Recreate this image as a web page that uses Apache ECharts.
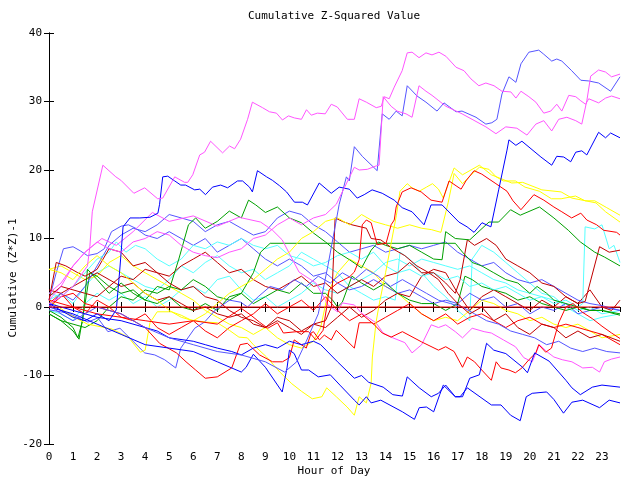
<!DOCTYPE html>
<html><head><meta charset="utf-8">
<script src="https://cdn.jsdelivr.net/npm/echarts@6/dist/echarts.min.js"></script>
<style>html,body{margin:0;padding:0;background:#fff}#c{width:640px;height:480px}</style>
</head><body><div id="c"></div>
<script>
const titleText = 'Cumulative Z-Squared Value';
const xName = 'Hour of Day';
const yName = 'Cumulative (Z*Z)-1';
const xMin = 0, xMax = 23.75, yMin = -20, yMax = 40;

const magentaTop = [[0,0.5],[0.5,1.5],[1,3],[1.3,4.5],[1.6,6],[1.7,8.8],[1.8,13.9],[2.24,20.7],[2.78,19.0],[2.99,18.5],[3.53,16.6],[3.98,17.4],[4.52,15.8],[4.73,15.9],[5.23,19.0],[5.64,18.2],[5.77,18.2],[5.98,19.3],[6.27,22.2],[6.47,22.6],[6.72,24.2],[7.22,22.5],[7.51,23.5],[7.72,23.1],[7.97,24.5],[8.26,27.4],[8.46,29.9],[8.88,29.1],[9.17,28.5],[9.46,28.3],[9.71,27.3],[9.96,27.9],[10.21,27.6],[10.5,27.4],[10.71,28.8],[10.91,28.0],[11.16,28.3],[11.49,28.2],[11.74,29.6],[11.99,29.2],[12.41,27.4],[12.7,27.4],[12.9,30.4],[13.2,29.9],[13.61,29.1],[13.82,29.3],[13.94,30.7],[14.15,30.4],[14.36,32.1],[14.69,34.5],[14.9,37.1],[15.1,37.2],[15.39,36.4],[15.68,37.1],[15.93,36.8],[16.22,37.2],[16.51,36.6],[16.93,35.0],[17.26,34.5],[17.55,33.3],[17.88,32.3],[18.17,32.7],[18.51,32.3],[18.84,31.5],[19.21,31.4],[19.42,30.5],[19.63,31.5],[19.96,30.7],[20.25,29.9],[20.58,28.3],[20.87,28.6],[21.12,29.6],[21.33,28.6],[21.62,30.9],[21.91,30.7],[22.12,30.1],[22.32,29.6],[22.45,30.4],[22.86,29.8],[23.15,30.5],[23.4,30.8],[23.75,30.4]];
const magentaSecond = [[0,2],[0.5,3.5],[1,6],[1.5,8],[2,9.5],[2.5,8.5],[3,8],[3.5,9.5],[4,10],[4.5,11],[5,10.5],[5.5,9],[6,8],[6.5,7.5],[7,7.2],[7.5,8],[8,8.5],[8.5,10],[9,10.5],[9.5,12],[10,13],[10.5,12],[11,13],[11.5,13.5],[11.95,15.0],[12.7,20.4],[12.9,20.0],[13.24,20.1],[13.61,20.6],[13.73,20.7],[13.9,30.7],[14.23,29.3],[14.48,28.6],[14.85,28.2],[15.1,27.7],[15.39,32.3],[15.68,31.5],[15.93,30.9],[16.22,30.1],[16.51,29.3],[17.18,28.2],[18.17,26.3],[18.59,25.3],[19.0,26.3],[19.46,26.1],[19.88,25.1],[20.25,26.7],[20.58,27.2],[20.91,25.7],[21.2,27.4],[21.54,27.7],[21.91,27.2],[22.16,26.7],[22.37,30.1],[22.53,33.7],[22.86,34.6],[23.15,34.3],[23.4,33.6],[23.75,34.0]];
const magentaLow = [[0,1],[0.5,3],[1,6],[1.5,8],[2.2,10],[2.8,9],[3.5,11],[4.3,13.8],[5,12.5],[6,13.3],[7,11.8],[7.9,13.1],[8.8,12.4],[9.3,11.2],[9.7,9.8],[10.4,5.1],[11.1,3.5],[11.5,1.0],[11.6,0.3],[12.0,-0.7],[12.2,0.6],[12.7,0.3],[13.0,-0.9],[13.6,-2.3],[13.9,-3.8],[14.3,-4.5],[14.8,-5.2],[15.1,-6.7],[15.5,-5.5],[15.9,-2.6],[16.2,-3.0],[16.5,-2.6],[16.9,-3.6],[17.2,-4.5],[17.6,-3.1],[18.1,-3.6],[18.4,-3.8],[18.9,-4.8],[19.4,-5.8],[19.75,-7.4],[20.1,-8.0],[20.4,-5.5],[20.7,-6.5],[21.0,-7.3],[21.35,-7.7],[21.75,-8.0],[22.2,-8.9],[22.6,-8.8],[22.9,-9.5],[23.1,-8.0],[23.4,-7.6],[23.75,-7.3]];
const lightBlueTop = [[0,0.3],[0.5,-1],[1,-2],[1.5,-1],[2,0],[3,-1],[4,-3],[5,-4.5],[6,-5.5],[7,-6.5],[8,-7],[9,-8],[9.8,-9.5],[10.3,-8],[10.7,-5],[11.2,-1],[11.6,6],[12.07,15.0],[12.37,19.0],[12.49,18.4],[12.7,23.4],[13.03,22.0],[13.65,19.9],[13.86,28.2],[14.15,27.4],[14.44,28.6],[14.69,27.9],[14.9,32.3],[15.31,30.8],[15.68,29.9],[16.14,28.6],[16.43,29.8],[16.93,28.5],[17.18,28.6],[17.76,27.7],[18.17,26.7],[18.42,26.9],[18.63,27.4],[18.84,31.1],[19.13,33.6],[19.42,32.8],[19.63,35.5],[19.96,37.2],[20.37,37.5],[20.58,36.9],[20.91,35.9],[21.12,36.2],[21.33,35.9],[21.74,34.5],[22.12,33.1],[22.45,33.0],[22.86,32.7],[23.36,31.5],[23.75,33.6]];
const blueUpper = [[0,0.5],[0.5,-0.5],[1,-1.5],[1.5,-2],[2,-1],[2.5,-2],[2.8,-0.4],[2.95,5.7],[3.08,11.7],[3.37,13.0],[3.78,13.0],[4.2,13.1],[4.53,13.7],[4.6,15.0],[4.73,19.0],[4.94,19.1],[5.23,18.4],[5.48,17.8],[5.68,17.8],[6.06,17.1],[6.27,17.2],[6.51,16.4],[6.8,17.5],[7.14,17.8],[7.43,17.4],[7.84,18.4],[8.05,18.4],[8.34,17.5],[8.46,16.8],[8.67,19.9],[9.05,19.0],[9.29,18.5],[9.59,17.7],[9.88,16.8],[10.21,15.3],[10.54,15.3],[10.75,14.9],[11.24,18.1],[11.74,16.6],[12.07,17.5],[12.49,17.2],[12.82,15.9],[13.11,16.4],[13.44,17.1],[13.86,16.6],[14.36,15.6],[14.69,14.5],[15.1,13.9],[15.6,12.0],[15.89,14.9],[16.35,14.9],[17.05,12.4],[17.39,11.7],[17.68,10.9],[18.01,12.3],[18.38,11.7],[18.71,17.2],[19.05,22.9],[19.13,24.4],[19.42,23.6],[19.67,24.2],[20.46,21.9],[20.91,20.7],[21.12,22.0],[21.41,21.9],[21.7,21.2],[21.91,22.6],[22.16,22.8],[22.37,22.2],[22.86,25.5],[23.15,24.7],[23.36,25.4],[23.75,24.7]];
const yellowA = [[0,1.0],[0.8,-1],[1.6,-2.5],[2.6,-3.2],[3.3,-4.4],[3.8,-6.6],[4.0,-6.3],[4.2,-2.3],[4.5,-0.7],[5.1,-0.7],[5.5,-1.2],[5.9,-1.9],[6.5,-2.2],[7.0,-2.3],[7.5,-3.4],[7.9,-4.4],[8.25,-4.5],[8.5,-5.5],[9.05,-7.3],[9.6,-9.5],[10.1,-11.2],[10.5,-12.3],[10.95,-13.4],[11.35,-13.1],[11.55,-11.8],[11.95,-13.1],[12.4,-14.6],[12.7,-15.8],[12.9,-13.1],[13.2,-14.0],[13.4,-11.1],[13.45,-7.3],[13.6,-2.3],[13.75,0.7],[14.0,5],[14.45,13.4],[14.6,16.9],[14.9,18.0],[15.1,17.4],[15.4,16.9],[15.7,17.5],[15.95,18.0],[16.2,17.2],[16.4,15.9],[16.85,20.3],[17.2,19.3],[17.9,20.7],[18.4,19.3],[19.25,18.1],[19.7,18.2],[20.5,17.1],[21.3,16.8],[21.75,15.9],[22.75,15.2],[23.15,13.9],[23.75,12.4]];
const yellowB = [[0,5.5],[0.5,5],[1,4],[1.5,6],[2,7.5],[2.5,6],[3,5],[3.5,3.5],[4,2],[4.5,1],[5,-0.5],[5.5,-1.5],[6,-2],[6.5,-1],[7,0.5],[7.5,2],[8,3],[8.5,4],[9,5.5],[9.5,7],[10,8],[10.5,10],[11,11],[11.5,12.5],[12,13],[12.5,12],[13,13.5],[13.5,12.5],[14,12],[14.5,11.5],[15,12],[15.5,11.5],[15.9,11.3],[16.3,10.9],[16.6,15.2],[16.85,19.5],[17.2,18],[17.5,19.1],[17.9,20.4],[18.3,20.1],[18.6,19],[18.9,18.4],[19.4,18.4],[19.8,17.5],[20.4,16.9],[20.9,15.8],[21.3,15.8],[21.9,16.2],[22.3,15.5],[22.7,15.5],[23.2,14.5],[23.75,13.4]];
const yellowC = [[0,5.5],[0.5,6],[1,5],[1.5,4],[2,4.5],[2.5,6.5],[3,7.5],[3.5,6],[4,5],[4.5,4],[5,3],[5.5,2],[6,1],[6.5,-0.5],[7,-1.5],[7.5,-2.5],[8,-3],[8.5,-4],[9,-3],[9.5,-4.5],[10,-5.5],[10.5,-6],[11,-5],[11.3,-3],[11.6,2],[12,5],[12.5,7],[13,6],[13.5,5],[14,3],[14.5,2],[15,0.5],[15.5,-1],[16,-2],[16.5,-1.5],[17,-2],[17.5,-0.5],[18,1],[18.5,0.5],[19,-0.5],[19.5,-1],[20,-2],[20.5,-1.5],[21,-2.5],[21.5,-3],[22,-2.5],[22.5,-3.5],[23,-4.5],[23.75,-4]];
const redUpper = [[0,1],[1,0],[2,-1],[3,-1.5],[4,-2],[5,-2.5],[6,-2],[7,-2.5],[8,-0.2],[8.4,-1.2],[8.75,-2.2],[9.1,-3.1],[9.5,-2.3],[9.75,-3.8],[10.3,-3.6],[10.8,-3.6],[11.1,-4.8],[11.4,-3.4],[11.55,0],[11.65,2.5],[12.0,3.5],[12.5,4.4],[12.7,5.1],[12.9,6.9],[13.03,12.0],[13.2,12.7],[13.4,12.3],[13.65,9.1],[14.02,9.3],[14.23,12.0],[14.36,12.7],[14.44,14.6],[14.69,16.8],[15.06,17.4],[15.48,16.8],[15.89,15.6],[16.35,15.3],[16.64,18.4],[16.93,17.7],[17.14,17.2],[17.34,18.4],[17.68,19.9],[18.0,19.4],[18.59,18.0],[19.05,16.9],[19.3,15.5],[19.63,14.2],[20.17,16.4],[20.58,15.6],[21.0,14.6],[21.33,13.9],[21.74,13.0],[22.12,13.7],[22.37,12.7],[22.78,12.0],[23.07,11.2],[23.61,10.9],[23.75,10.5]];
const redLower = [[0,0],[0.5,1.5],[1,2],[1.5,0.5],[2,0],[2.5,-0.5],[3,-1],[3.5,-2],[4,-3],[4.6,-5.3],[5.3,-6.7],[5.7,-8.0],[6.1,-9.2],[6.5,-10.4],[7.0,-10.2],[7.6,-8.9],[7.95,-5.5],[8.25,-5.3],[8.76,-7.0],[9.3,-8.0],[9.71,-8.0],[10.0,-7.4],[10.2,-4.8],[10.7,-6.0],[10.9,-3.8],[11.0,-3.6],[11.25,-4.8],[11.45,-4.1],[11.74,-4.8],[11.95,-3.4],[12.7,-6.0],[12.9,-2.3],[13.45,-2.3],[13.86,-3.8],[14.23,-4.4],[14.7,-3.6],[15.5,-5.1],[16.2,-6.3],[16.5,-5.8],[16.85,-6.5],[17.2,-8.8],[17.4,-7.3],[17.7,-8.0],[18.0,-9.2],[18.4,-10.7],[18.6,-8.0],[18.8,-8.9],[19.13,-9.2],[19.4,-9.6],[19.67,-8.9],[19.96,-7.7],[20.25,-6.7],[20.37,-5.5],[20.66,-6.6],[20.9,-6.0],[21.2,-2.3],[21.5,0],[21.8,0.5],[22.2,-0.8],[22.6,-1.7],[23.0,-2.8],[23.4,-3.8],[23.75,-4.6]];
const redMid = [[0,0.5],[0.5,2],[1,0],[1.5,-1],[2,1],[2.5,0],[3,-1.5],[3.5,-2],[4,-1],[4.5,-3],[5,-4],[5.5,-3],[6,-2],[6.5,-3.5],[7,-4.5],[7.5,-3],[8,-2],[8.5,-1],[9,0.5],[9.5,-1],[10,0],[10.5,1],[11,-0.5],[11.5,1.5],[12,-0.5],[12.5,-2],[13,-1],[13.5,-2.5],[14,-1.5],[14.5,-0.5],[15,0.5],[15.5,-1],[16,-2],[16.5,-1],[17,-2.5],[17.5,-1.5],[18,-1],[18.5,-2],[19,-3],[19.5,-2],[20,-1.5],[20.5,-2.5],[21,-3],[21.5,-2.5],[22,-3],[22.5,-3.5],[23,-4],[23.75,-5.5]];
const darkRedA = [[0,1],[0.3,6.5],[0.7,6],[1.2,5],[1.5,4.5],[2,5.5],[2.5,8.5],[3,8],[3.5,6],[4,6.5],[4.5,5],[5,3.5],[5.5,2.5],[6,3],[6.5,1.5],[7,1],[7.5,-0.5],[8,-1.5],[8.5,-2],[9,-3],[9.5,-2],[10,-3],[10.5,-4],[11,-2.5],[11.5,-2],[11.75,0],[11.9,13],[12.2,12.5],[12.6,12],[13.2,11.5],[13.4,10],[13.8,9.8],[14.3,8.5],[14.8,7.5],[15.3,6],[15.8,5],[16.2,4],[16.6,2],[17.0,0.5],[17.5,-1],[18,0],[18.5,-2],[19,-1],[19.5,-3],[20,-4],[20.5,-2.5],[21,-3],[21.5,-4.5],[22,-3.5],[22.5,-4.5],[23,-4],[23.75,-5]];
const darkRedB = [[0,2.5],[0.5,2],[1,3],[1.5,4],[2,5],[2.5,4],[3,3],[3.5,3.5],[4,2],[4.5,1],[5,1.5],[5.5,0.5],[6,-0.5],[6.5,0],[7,-1],[7.5,-1.5],[8,-1],[8.5,-2.5],[9,-3],[9.5,-1.5],[10,-2],[10.5,-3.5],[11,-2.5],[11.5,-3],[12,-1.5],[12.5,0],[13,-1.5],[13.5,-0.5],[14,1],[14.5,2],[15,1.5],[15.5,4.5],[16,5.5],[16.5,5],[17,2],[17.5,-0.5],[18,1.5],[18.5,2.5],[19,1.5],[19.5,0.5],[20,-0.5],[20.5,1],[21,0],[21.5,1.5],[22,0.5],[22.5,2.5],[23,0],[23.4,-0.5],[23.75,1]];
const darkRedC = [[0,1.5],[0.5,3],[1,2.5],[1.5,2],[2,1.5],[2.5,3],[3,4.5],[3.5,4],[4,5.5],[4.5,5],[5,4.5],[5.5,6],[6,7],[6.5,8],[7,6.5],[7.5,5],[8,5.5],[8.5,4],[9,3],[9.5,2.5],[10,3.5],[10.5,4.5],[11,3],[11.5,3.5],[12,2],[12.5,3],[13,4],[13.5,3],[14,4.5],[14.5,5],[15,6.5],[15.5,5],[16,5],[16.5,3.5],[16.9,2],[17.1,4],[17.4,9.8],[17.7,9],[18.2,10],[18.6,9],[19,7],[19.5,6],[20,5],[20.5,3.5],[21,3],[21.5,1.5],[22,0.5],[22.3,0.8],[22.9,8.8],[23.3,8],[23.75,8.3]];
const greenA = [[0,-0.5],[0.5,-1.5],[1,-3],[1.2,-4.5],[1.4,-2],[1.6,5.5],[2,4],[2.5,2],[3,3.5],[3.5,2],[4,1],[4.5,3],[5,2.5],[5.4,7],[5.8,12],[6.1,13],[6.5,11.5],[7,12.5],[7.5,14],[8,13],[8.3,15.6],[8.6,14.9],[9,13.8],[9.5,14.6],[10,13],[10.5,12.3],[11,10.8],[11.5,9.5],[12,8],[12.5,6.9],[13,5.7],[13.4,8.3],[13.7,9.5],[14,9],[14.5,8.5],[15,9],[15.5,8],[16,7],[16.35,6.9],[16.5,11],[16.9,10],[17.5,9.8],[18.3,12.4],[18.7,12.4],[19.2,14.2],[19.6,13.4],[20.4,14.6],[21,13],[21.6,11.2],[22.1,9.5],[22.7,8.0],[23.1,7.3],[23.75,6]];
const greenB = [[0,-1],[0.5,-2],[1,-2.5],[1.5,-3],[2,-2],[2.5,0],[3,1.5],[3.5,1],[4,2.5],[4.5,2],[5,3],[5.5,2.5],[6,4],[6.5,3],[7,1.5],[7.5,1],[8,2],[8.5,5],[8.8,8],[9.2,9.3],[16.9,9.3],[17.2,8],[17.6,6.5],[18,6],[18.5,5],[19,4],[19.5,3.5],[20,2],[20.3,3],[20.7,2],[21,1],[21.5,0.5],[22,0],[22.5,-0.5],[23,-0.5],[23.75,-1]];
const greenC = [[0,-1],[0.5,-2],[1,-3.5],[1.25,-4.7],[1.5,0.5],[1.7,5],[2,4.5],[2.5,3],[3,2],[3.5,2.5],[4,1],[4.5,0.5],[5,1.5],[5.5,0],[6,-0.5],[6.5,0.5],[7,-0.5],[7.5,1.5],[8,2],[8.5,0.5],[9,1.5],[9.5,2.5],[10,2],[10.5,3.5],[11,2],[11.5,2],[11.8,1],[12,0],[12.2,0.7],[12.6,4.5],[13,3.5],[13.5,2.5],[14,3.5],[14.5,2],[15,1],[15.5,0.5],[16,0.5],[16.5,-0.5],[17,0.5],[17.3,4.5],[17.6,4],[18,3],[18.5,2.5],[19,2],[19.5,1],[20,1.5],[20.5,0.5],[21,0],[21.5,-0.5],[22,0],[22.5,-0.5],[23,-0.5],[23.75,-1.2]];
const cyanA = [[0,2],[0.5,1.5],[1,3],[1.5,5],[2,7],[2.5,8],[2.8,9.5],[3.2,8],[3.6,9],[4,8.5],[4.5,7],[5,6],[5.5,7],[6,9],[6.5,8.5],[7,9.5],[7.5,9],[8,10],[8.5,9],[9,8.5],[9.5,9],[10,7.5],[10.5,7],[11,6],[11.5,6.5],[12,7.5],[12.5,8],[13,7],[13.5,8],[14,6],[14.5,5],[15,5.5],[15.5,4.5],[16,5],[16.5,4],[17,4.5],[17.5,3],[18,3.5],[18.5,2.5],[19,3],[19.5,2],[20,1],[20.5,1.5],[21,0.5],[21.5,1],[22,0],[22.2,0.5],[22.3,11.7],[22.7,11.4],[23,12],[23.3,8.5],[23.5,9],[23.75,6.5]];
const cyanB = [[0,1],[0.5,2],[1,0.5],[1.5,3],[2,5],[2.5,6],[3,5],[3.5,4],[4,3],[4.5,2.5],[5,4],[5.5,6],[6,5],[6.5,6.5],[7,7.5],[7.5,6],[8,5],[8.5,5.5],[9,4],[9.5,5],[10,6],[10.5,8],[11,7],[11.5,6],[12,5],[12.5,3],[13,4],[13.5,5],[14,6.5],[14.5,7],[15,6],[15.5,7],[16,6.5],[16.5,6],[17,5.5],[17.5,6],[18,5],[18.5,4],[19,3.5],[19.5,2.5],[20,2],[20.5,1.5],[21,1],[21.5,0.5],[22,-0.5],[22.5,0],[23,-1],[23.75,-0.5]];
const cyanC = [[0,-0.5],[0.5,-1],[1,-2],[1.5,0.5],[2,2],[2.5,1],[3,2],[3.5,0.5],[4,1.5],[4.5,0],[5,1],[5.5,2.5],[6,3],[6.5,2],[7,4],[7.5,4.5],[8,2.5],[8.5,1],[9,1.5],[9.5,0],[10,1],[10.5,2],[11,3.5],[11.5,2.5],[12,2],[12.5,3],[13,2],[13.5,1],[14,1.5],[14.4,1],[14.6,8],[15,7],[15.5,5],[16,3],[16.5,1.5],[17,-0.5],[17.5,-2],[17.6,7],[18,9],[18.5,8],[19,6.5],[19.5,5],[20,3.5],[20.5,2],[21,1.5],[21.5,0],[22,-1],[22.5,-2],[23,-1.5],[23.75,-1]];
const lightBlueA = [[0,-0.4],[0.79,-0.9],[1.62,-2.2],[2.03,-1.6],[2.45,-3.6],[2.95,-3.1],[3.98,-6.7],[4.4,-7.0],[4.81,-7.7],[5.27,-8.9],[5.48,-6.0],[6.06,-3.1],[6.47,-2.2],[6.93,-0.4],[7.51,1.0],[7.97,0.7],[8.26,0],[8.7,1.5],[9.2,3],[9.7,2.5],[10.2,4],[10.7,3],[11.2,4.5],[11.7,3.5],[12.2,5],[12.7,4],[13.2,5.5],[13.7,4.5],[14.2,3],[14.7,4],[15.2,3],[15.7,2],[16.2,1],[16.7,0.5],[17.2,0],[17.7,-1],[18.2,-2],[18.7,-2.5],[19.2,-3.5],[19.7,-4],[20.2,-4.5],[20.7,-5.5],[21.2,-5],[21.7,-6],[22.2,-6.5],[22.7,-6],[23.2,-6.5],[23.75,-6.7]];
const lightBlueB = [[0,1],[0.3,5],[0.6,8.5],[1,8.8],[1.3,8.2],[1.6,7.5],[2,7.8],[2.3,8.5],[2.6,11],[3,11.8],[3.3,12],[3.6,11.5],[4,10.5],[4.5,10],[5,11],[5.5,10],[6,9],[6.5,10],[7,8],[7.5,9],[8,10],[8.5,8.5],[9,7],[9.5,6],[10,7],[10.5,6],[11,4.5],[11.5,5],[12,3.5],[12.5,2.5],[13,3],[13.5,4],[14,3],[14.5,2],[15,2.5],[15.5,1.5],[16,0.5],[16.5,1],[17,0.5],[17.5,2],[18,1],[18.5,1.5],[19,0],[19.5,0.5],[20,-1],[20.5,0],[21,-0.5],[21.5,0.5],[22,-1],[22.5,-0.5],[23,0],[23.75,-0.5]];
const lightBlueC = [[0,0],[0.5,2],[1,1],[1.5,3],[2,6],[2.5,9],[3,10.5],[3.5,11.5],[4,11],[4.5,12],[5,13.5],[5.5,13],[6,12.5],[6.5,11],[7,12],[7.5,12.5],[8,11.5],[8.5,10.5],[9,11],[9.5,13],[10,14],[10.5,13.5],[11,12],[11.5,11],[12,9.5],[12.5,8],[13,8.5],[13.5,9],[14,8],[14.5,8.5],[15,9],[15.5,8.5],[16,9],[16.5,9.5],[17,8],[17.5,7],[18,6],[18.5,6.5],[19,5],[19.5,4],[20,3.5],[20.5,4],[21,3],[21.5,2],[22,1],[22.5,0.5],[23,0.2],[23.75,-0.5]];
const blueLowA = [[0,0],[1,-1],[2,-2.5],[3,-4],[4,-5.5],[5,-6],[6,-6.5],[7,-8],[8,-9.5],[8.2,-8.8],[8.5,-6.9],[9.0,-8.8],[9.7,-12.4],[9.9,-8.9],[10.0,-6.3],[10.2,-6.8],[10.5,-9.2],[10.8,-9.2],[11.2,-10.2],[11.7,-9.9],[12.1,-11.4],[12.7,-13.6],[12.9,-14.3],[13.2,-13.1],[13.4,-14.0],[13.8,-13.6],[14.7,-15.3],[15.2,-16.4],[15.4,-14.7],[15.7,-14.6],[16.0,-15.3],[16.25,-12.8],[16.4,-11.4],[16.9,-13.1],[17.1,-13.1],[17.4,-11.8],[18.4,-14.3],[18.8,-14.3],[19.2,-15.8],[19.6,-16.6],[19.85,-13.1],[20.1,-12.6],[20.7,-12.4],[21.0,-13.5],[21.4,-15.5],[21.75,-13.9],[22.2,-13.6],[22.9,-14.7],[23.3,-13.6],[23.75,-14.0]];
const blueLowB = [[0,0.5],[1,-0.5],[2,-1.5],[3,-2],[4,-3],[4.5,-3.5],[5,-4.5],[6,-5],[6.5,-5.5],[7,-6],[7.6,-6.5],[8,-7],[8.5,-6],[9,-5.5],[9.5,-6],[10,-5],[10.5,-5.5],[11.0,-5.0],[11.3,-5.5],[12.0,-8.0],[12.7,-10.4],[13.0,-10.0],[13.3,-11.0],[13.9,-11.7],[14.3,-12.8],[14.7,-13.0],[14.9,-10.2],[15.4,-11.8],[15.9,-13.1],[16.2,-12.6],[16.5,-11.4],[16.9,-13.1],[17.2,-13.1],[17.5,-10.4],[17.9,-9.9],[18.2,-5.3],[18.5,-6.3],[19.0,-6.8],[19.7,-8.8],[19.9,-9.6],[20.2,-6.7],[20.8,-7.9],[21.5,-10.7],[21.75,-11.8],[22.1,-12.8],[22.6,-11.7],[23.0,-11.4],[23.75,-11.7]];
const zeroLine = [[0,0],[23.75,0]];

const lines = [
  {data: cyanB, color: '#55ffff'}, {data: cyanC, color: '#55ffff'},
  {data: yellowC, color: '#ffff00'}, {data: lightBlueB, color: '#5555ff'},
  {data: greenC, color: '#00a000'}, {data: darkRedB, color: '#c00000'},
  {data: redMid, color: '#ff0000'}, {data: lightBlueC, color: '#5555ff'},
  {data: cyanA, color: '#55ffff'}, {data: darkRedC, color: '#c00000'},
  {data: greenB, color: '#00a000'}, {data: greenA, color: '#00a000'},
  {data: lightBlueA, color: '#5555ff'}, {data: magentaLow, color: '#ff55ff'},
  {data: darkRedA, color: '#c00000'}, {data: yellowB, color: '#ffff00'},
  {data: yellowA, color: '#ffff00'}, {data: redLower, color: '#ff0000'},
  {data: redUpper, color: '#ff0000'}, {data: blueLowA, color: '#0000ff'},
  {data: blueLowB, color: '#0000ff'}, {data: blueUpper, color: '#0000ff'},
  {data: lightBlueTop, color: '#5555ff'}, {data: magentaSecond, color: '#ff55ff'},
  {data: magentaTop, color: '#ff55ff'}, {data: zeroLine, color: '#ff0000'}
];

const FONT = 'DejaVu Sans Mono';
const chart = echarts.init(document.getElementById('c'), null, {renderer: 'canvas'});
const axisLineStyle = {show: true, lineStyle: {color: '#000', width: 1}};
const tick = {show: true, inside: true, length: 5, lineStyle: {color: '#000'}};
chart.setOption({
  animation: false,
  backgroundColor: '#fff',
  grid: {left: 49, right: 20, top: 33, bottom: 36, containLabel: false},
  xAxis: [
    {type: 'value', min: xMin, max: xMax, interval: 1, position: 'bottom', axisLine: axisLineStyle, axisTick: tick, splitLine: {show: false},
     axisLabel: {color: '#000', fontFamily: FONT, fontSize: 11, margin: 8, showMaxLabel: false, formatter: v => (Number.isInteger(v) ? String(v) : '')}},
    {type: 'value', min: xMin, max: xMax, interval: 1, position: 'top', axisLine: axisLineStyle, axisTick: tick, splitLine: {show: false}, axisLabel: {show: false}}
  ],
  yAxis: [
    {type: 'value', min: yMin, max: yMax, interval: 10, position: 'left', axisLine: axisLineStyle, axisTick: tick, splitLine: {show: false},
     axisLabel: {color: '#000', fontFamily: FONT, fontSize: 11, margin: 7}},
    {type: 'value', min: yMin, max: yMax, interval: 10, position: 'right', axisLine: axisLineStyle, axisTick: tick, splitLine: {show: false}, axisLabel: {show: false}}
  ],
  graphic: [
    {type: 'text', x: 334, y: 16, style: {text: titleText, font: '11px ' + FONT, fill: '#000', textAlign: 'center', textVerticalAlign: 'middle'}},
    {type: 'text', x: 334, y: 471, style: {text: xName, font: '11px ' + FONT, fill: '#000', textAlign: 'center', textVerticalAlign: 'middle'}},
    {type: 'text', x: 13, y: 278, rotation: Math.PI / 2, style: {text: yName, font: '11px ' + FONT, fill: '#000', textAlign: 'center', textVerticalAlign: 'middle'}}
  ],
  series: lines.map((l, i) => ({
    type: 'line', data: l.data, xAxisIndex: 0, yAxisIndex: 0, showSymbol: false, symbol: 'none',
    lineStyle: {color: l.color, width: 1}, itemStyle: {color: l.color}, z: 2 + i * 0.01, silent: true
  }))
});
</script></body></html>
